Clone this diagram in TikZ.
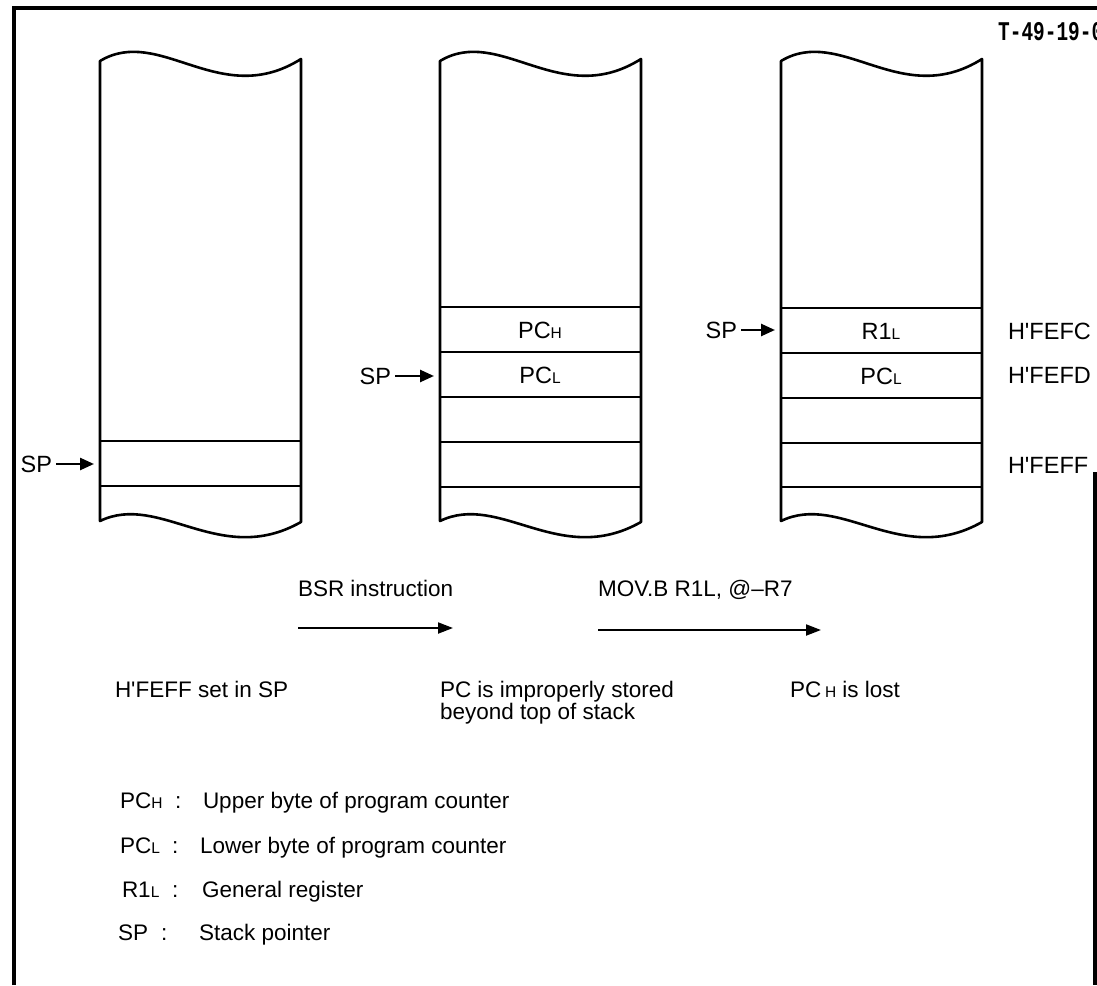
\documentclass[tikz,border=0pt]{standalone}
\usepackage{fontspec}
\setmainfont{Liberation Sans}
\newfontfamily\stampfont{Liberation Mono}
\usetikzlibrary{arrows.meta}
\newcommand{\lo}[1]{{\fontsize{15.5pt}{16pt}\selectfont #1}}
\newcommand{\q}{\textquotesingle}
\tikzset{
  txt/.style={font=\fontsize{22.5pt}{26pt}\selectfont, inner sep=0pt, outer sep=0pt},
  captxt/.style={font=\fontsize{23.5pt}{26pt}\selectfont, inner sep=0pt, outer sep=0pt},
  stk/.style={line width=2.6pt, line join=round},
  frame/.style={line width=3.5pt},
  sparrow/.style={line width=2.5pt, -{Triangle[length=14pt,width=12pt]}},
  trarrow/.style={line width=2pt, -{Triangle[length=15pt,width=11pt]}},
}
\newcommand{\stackshape}{%
  \draw[stk] (0,521) -- (0,61) .. controls (60,25) and (120,110) .. (201,59)
     -- (201,522) .. controls (120,568) and (60,492) .. (0,521) -- cycle;}
\begin{document}
\begin{tikzpicture}[x=1pt,y=-1pt]
\useasboundingbox (0,0) rectangle (1097,985);
% frame
\draw[frame] (14,985) -- (14,8) -- (1100,8);
\draw[frame] (1095,472) -- (1095,985);
\node[anchor=west, inner sep=0pt, font=\stampfont\bfseries\fontsize{27pt}{27pt}\selectfont] (stamp) at (998,32) {\scalebox{0.72}[1]{T-49-19-0}};
% stack 1
\begin{scope}[xshift=100pt]
  \stackshape
  \draw[stk] (0,441) -- (201,441);
  \draw[stk] (0,486) -- (201,486);
\end{scope}
% stack 2
\begin{scope}[xshift=440pt]
  \stackshape
  \foreach \yy in {307,352,397,442,487} \draw[stk] (0,\yy) -- (201,\yy);
\end{scope}
% stack 3
\begin{scope}[xshift=781pt]
  \stackshape
  \foreach \yy in {308,353,398,443,487} \draw[stk] (0,\yy) -- (201,\yy);
\end{scope}
% cell texts
\node[captxt] (pch2) at (540,330) {PC\lo{H}};
\node[captxt] (pcl2) at (540,375) {PC\lo{L}};
\node[captxt] (r1l3) at (881,331) {R1\lo{L}};
\node[captxt] (pcl3) at (881,376) {PC\lo{L}};
% SP pointers
\node[captxt, anchor=east] (sp1) at (52,464) {SP};
\coordinate (t1) at (94,464);
\draw[sparrow] ([xshift=4pt]sp1.east) -- (t1);
\node[captxt, anchor=east] (sp2) at (391,376) {SP};
\coordinate (t2) at (434,376);
\draw[sparrow] ([xshift=4pt]sp2.east) -- (t2);
\node[captxt, anchor=east] (sp3) at (737,330) {SP};
\coordinate (t3) at (775,330);
\draw[sparrow] ([xshift=4pt]sp3.east) -- (t3);
% addresses
\node[captxt, anchor=west] (afc) at (1008,331) {H\q FEFC};
\node[captxt, anchor=west] (afd) at (1008,375) {H\q FEFD};
\node[captxt, anchor=west] (aff) at (1008,465) {H\q FEFF};
% transitions
\node[txt, anchor=base west] (bsr) at (298,596) {BSR instruction};
\coordinate (b0) at (298,628);
\coordinate (b1) at (453,628);
\draw[trarrow] (b0) -- (b1);
\node[txt, anchor=base west] (mov) at (598,596) {MOV.B R1L, @--R7};
\coordinate (m0) at (598,630);
\coordinate (m1) at (821,630);
\draw[trarrow] (m0) -- (m1);
% captions
\node[txt, anchor=base west] (c1) at (115,697) {H\q FEFF set in SP};
\node[txt, anchor=base west] (c2) at (440,697) {PC is improperly stored};
\node[txt, anchor=base west] (c2b) at (440,719) {beyond top of stack};
\node[txt, anchor=base west] (c3) at (790,697) {PC\,\lo{H} is lost};
% legend
\node[txt, anchor=base west] (l1a) at (120,808) {PC\lo{H}};
\node[txt, anchor=base west] (l1b) at (175,808) {:};
\node[txt, anchor=base west] (l1c) at (203,808) {Upper byte of program counter};
\node[txt, anchor=base west] (l2a) at (120,853) {PC\lo{L}};
\node[txt, anchor=base west] (l2b) at (172,853) {:};
\node[txt, anchor=base west] (l2c) at (200,853) {Lower byte of program counter};
\node[txt, anchor=base west] (l3a) at (122,897) {R1\lo{L}};
\node[txt, anchor=base west] (l3b) at (172,897) {:};
\node[txt, anchor=base west] (l3c) at (202,897) {General register};
\node[txt, anchor=base west] (l4a) at (118,940) {SP};
\node[txt, anchor=base west] (l4b) at (161,940) {:};
\node[txt, anchor=base west] (l4c) at (199,940) {Stack pointer};
\end{tikzpicture}
\end{document}
